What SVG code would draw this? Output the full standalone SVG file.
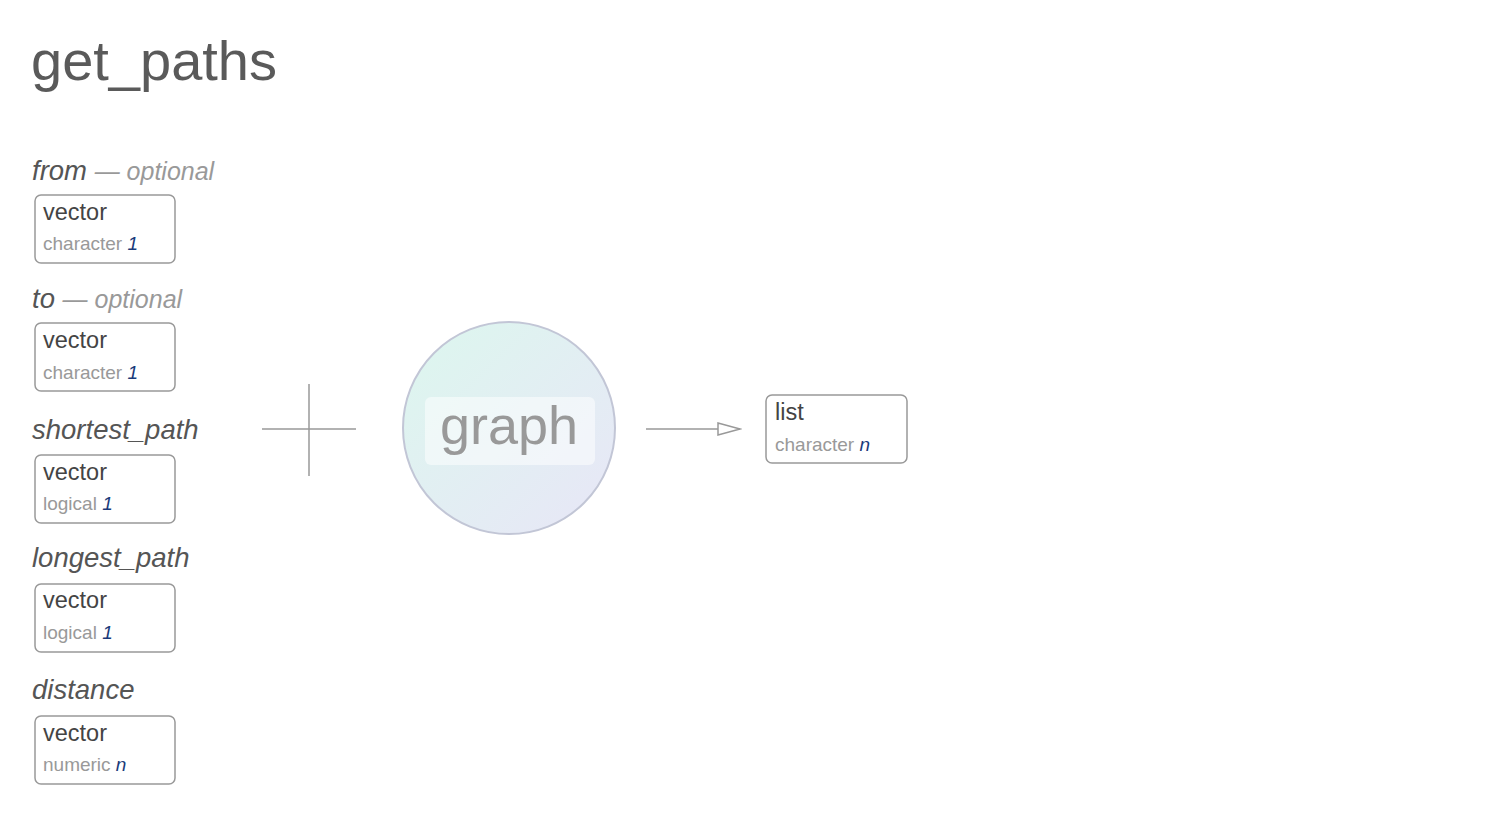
<svg xmlns="http://www.w3.org/2000/svg" width="1510" height="820" viewBox="0 0 1510 820">
<defs>
<linearGradient id="gg" x1="0" y1="0" x2="1" y2="1">
<stop offset="0" stop-color="#dcf7ee"/>
<stop offset="1" stop-color="#e8e6f7"/>
</linearGradient>
<marker id="arr" markerWidth="26" markerHeight="16" refX="24" refY="8" orient="auto" markerUnits="userSpaceOnUse">
<path d="M2,2 L24,8 L2,14 Z" fill="#fff" stroke="#999" stroke-width="1.5"/>
</marker>
</defs>
<style>
text{font-family:"Liberation Sans",Arial,sans-serif}
.title{font-size:56px;fill:#5a5a5a;font-weight:300}
.arg{font-size:27.5px;fill:#555;font-style:italic}
.opt{font-size:25px;fill:#999;font-style:italic}
.box{fill:#fff;stroke:#999;stroke-width:1.5}
.t1{font-size:23.5px;fill:#444}
.t2{font-size:19px;fill:#999}
.n{font-style:italic;fill:#1a3a7a}
.ln{stroke:#999;stroke-width:1.5;fill:none}
</style>
<rect width="1510" height="820" fill="#fff"/>
<text class="title" x="31" y="80">get_paths</text>

<g id="arg-from">
<text class="arg" x="32" y="180">from <tspan class="opt">— optional</tspan></text>
<rect class="box" x="35" y="195" width="140" height="68" rx="6"/>
<text class="t1" x="43" y="220">vector</text>
<text class="t2" x="43" y="250">character <tspan class="n">1</tspan></text>
</g>
<g id="arg-to">
<text class="arg" x="32" y="308">to <tspan class="opt">— optional</tspan></text>
<rect class="box" x="35" y="323" width="140" height="68" rx="6"/>
<text class="t1" x="43" y="348">vector</text>
<text class="t2" x="43" y="379">character <tspan class="n">1</tspan></text>
</g>
<g id="arg-shortest_path">
<text class="arg" x="32" y="439">shortest_path</text>
<rect class="box" x="35" y="455" width="140" height="68" rx="6"/>
<text class="t1" x="43" y="480">vector</text>
<text class="t2" x="43" y="510">logical <tspan class="n">1</tspan></text>
</g>
<g id="arg-longest_path">
<text class="arg" x="32" y="567">longest_path</text>
<rect class="box" x="35" y="584" width="140" height="68" rx="6"/>
<text class="t1" x="43" y="608">vector</text>
<text class="t2" x="43" y="639">logical <tspan class="n">1</tspan></text>
</g>
<g id="arg-distance">
<text class="arg" x="32" y="699">distance</text>
<rect class="box" x="35" y="716" width="140" height="68" rx="6"/>
<text class="t1" x="43" y="741">vector</text>
<text class="t2" x="43" y="771">numeric <tspan class="n">n</tspan></text>
</g>

<g id="graph">
<circle cx="509" cy="428" r="106" fill="url(#gg)" stroke="#c2c6d6" stroke-width="2"/>
<rect x="425" y="397" width="170" height="68" rx="6" fill="#fff" fill-opacity="0.5"/>
<text x="509" y="444" text-anchor="middle" style="font-size:54px;fill:#999">graph</text>
</g>

<g id="output">
<rect class="box" x="766" y="395" width="141" height="68" rx="6"/>
<text class="t1" x="775" y="420">list</text>
<text class="t2" x="775" y="451">character <tspan class="n">n</tspan></text>
</g>

<g id="connectors">
<line class="ln" x1="262" y1="429" x2="356" y2="429"/>
<line class="ln" x1="309" y1="384" x2="309" y2="476"/>
<line class="ln" x1="646" y1="429" x2="740" y2="429" marker-end="url(#arr)"/>
</g>
</svg>
